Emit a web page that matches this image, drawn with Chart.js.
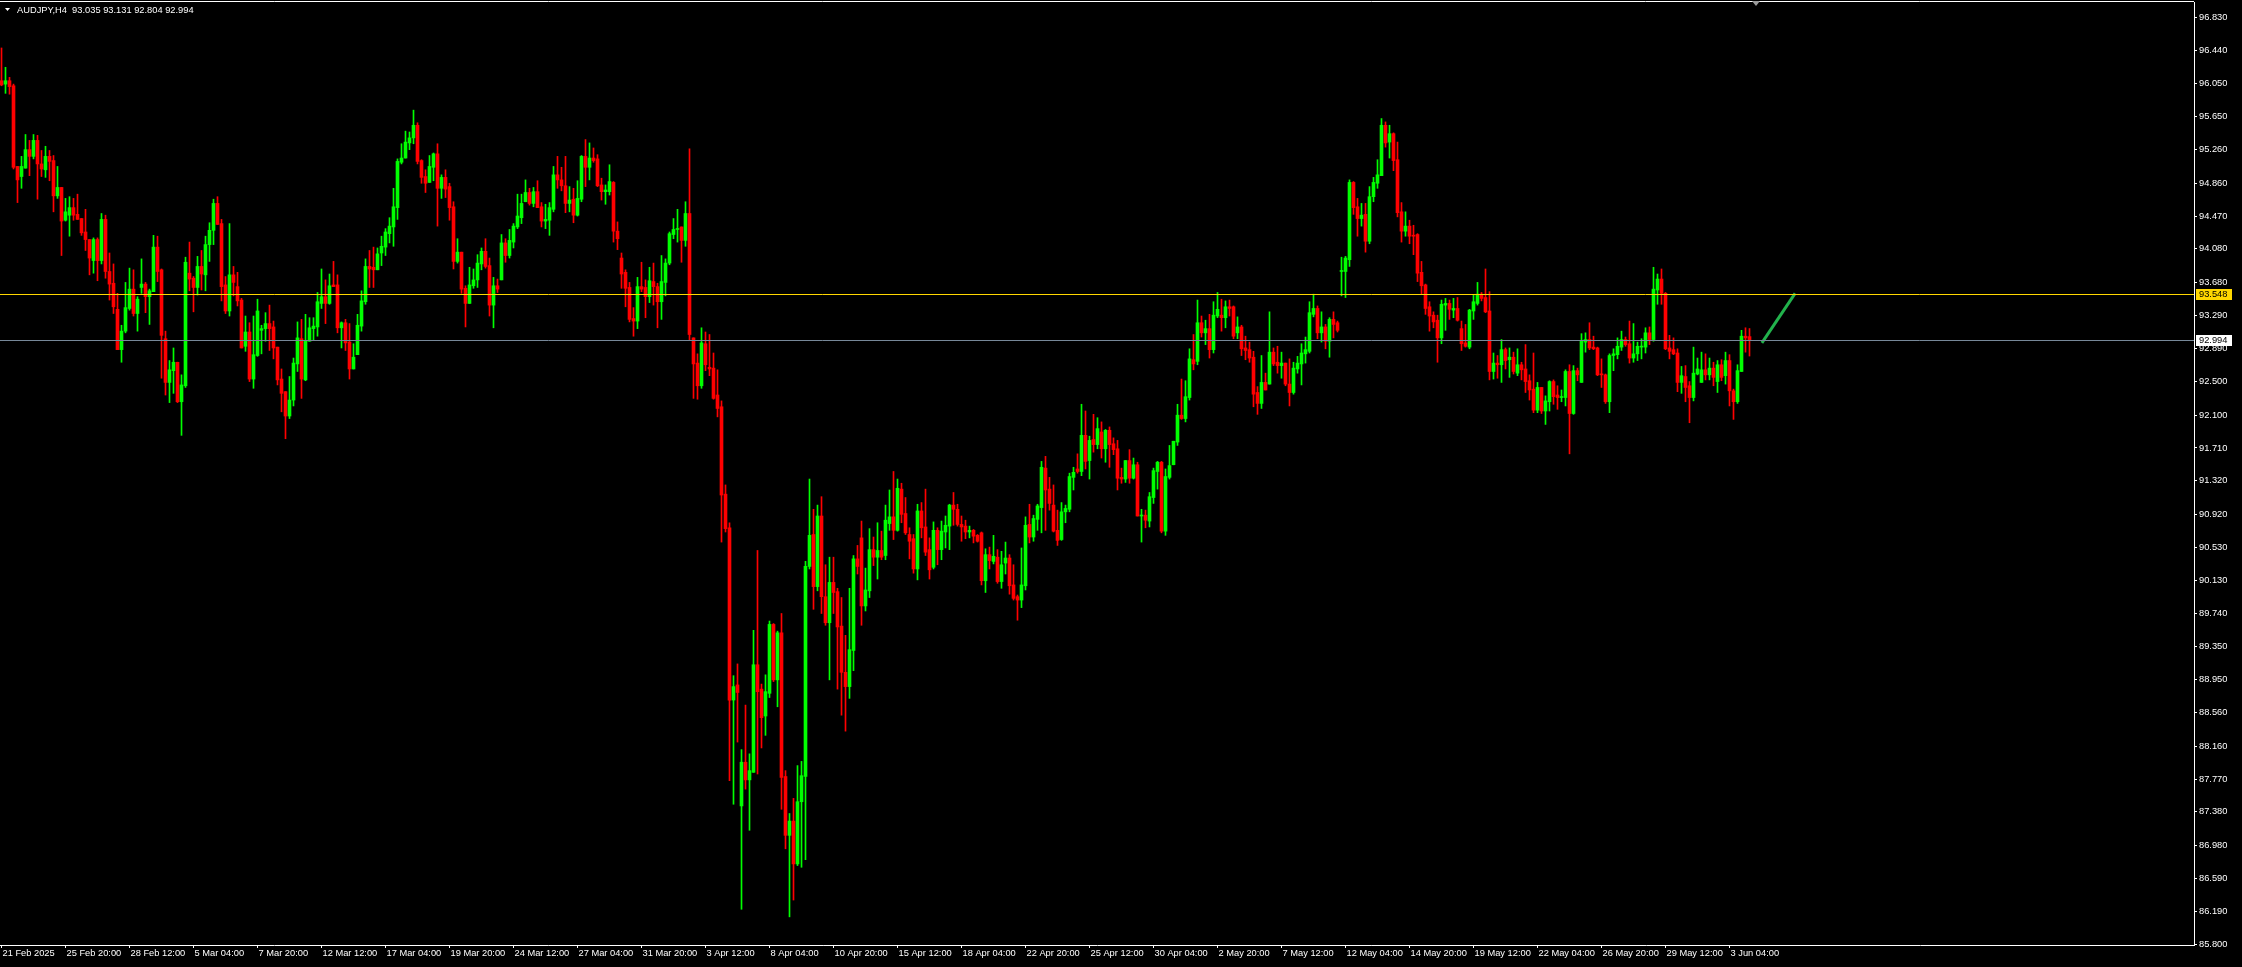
<!DOCTYPE html>
<html>
<head>
<meta charset="utf-8">
<title>AUDJPY,H4</title>
<script src="https://cdn.jsdelivr.net/npm/chart.js@4.4.1/dist/chart.umd.min.js"></script>
<style>
  html, body { margin: 0; padding: 0; background: #000; overflow: hidden; }
  #chart { display: block; }
</style>
</head>
<body>
<canvas id="chart" width="2242" height="967"></canvas>
<script>
'use strict';

// header
var symbolTitle = 'AUDJPY,H4';
var lastQuote = [93.035, 93.131, 92.804, 92.994];

// H4 candles, 21 Feb 2025 04:00 -> 4 Jun 2025 00:00
var opens = [
  96.08,96.04,96.08,96.02,95.06,94.94,95.04,95.26,95.18,95.37,
  95.09,95.02,95.18,95.13,94.71,94.81,94.42,94.48,94.57,94.49,
  94.44,94.28,94.19,93.94,94.19,93.94,94.43,93.81,93.67,93.36,
  92.88,93.10,93.37,93.60,93.31,93.62,93.66,93.51,93.57,94.10,
  93.83,93.01,92.49,92.63,92.73,92.26,92.45,93.79,93.73,93.62,
  93.87,93.77,94.13,94.30,94.62,94.38,93.65,93.34,93.77,93.63,
  93.47,92.92,93.09,92.53,92.81,93.11,93.13,93.19,93.15,92.91,
  92.53,92.38,92.09,92.28,92.71,
  93.01,92.52,92.98,93.13,93.15,93.43,93.51,93.43,93.65,93.65,
  93.14,93.20,92.97,92.65,92.82,93.16,93.45,93.87,93.86,93.83,
  94.03,94.10,94.26,94.34,94.57,95.11,95.16,95.34,95.40,95.55,
  95.13,94.94,94.87,95.05,95.21,94.80,94.93,94.82,94.58,93.93,
  94.04,93.61,93.43,93.64,93.71,93.90,94.05,93.88,93.41,93.64,
  93.71,94.15,94.00,94.16,94.34,94.45,94.64,94.75,94.62,94.76,
  94.58,94.41,94.42,94.55,94.96,94.90,94.83,94.62,94.67,94.48,
  94.67,95.18,95.05,95.16,95.15,
  94.84,94.76,94.76,94.87,94.29,93.97,93.80,93.62,93.25,93.22,
  93.63,93.62,93.51,93.69,93.63,93.45,93.68,93.91,94.25,94.31,
  94.34,94.18,94.50,93.02,92.72,92.45,92.95,92.67,92.66,92.34,
  92.20,91.16,90.76,88.71,88.89,87.45,87.97,87.76,87.85,89.13,
  88.84,88.52,88.79,89.61,88.95,89.51,87.80,87.10,87.27,86.76,
  87.50,87.80,90.30,90.68,90.06,90.90,89.94,89.63,90.11,90.00,
  89.59,89.04,88.87,89.30,90.39,90.64,89.83,90.01,90.50,90.41,
  90.49,90.43,90.81,90.89,90.73,
  91.22,90.93,90.68,90.63,90.27,90.96,90.77,90.50,90.29,90.73,
  90.50,90.71,90.78,91.03,90.98,90.80,90.78,90.71,90.73,90.67,
  90.70,90.13,90.44,90.36,90.41,90.12,90.34,90.40,90.08,89.94,
  89.90,90.07,90.80,90.65,90.86,91.00,91.47,91.22,91.03,90.73,
  90.62,90.95,90.98,91.36,91.46,91.43,91.86,91.56,91.81,91.75,
  91.90,91.70,91.92,91.76,91.70,91.36,91.34,91.56,91.35,91.51,
  90.90,90.91,90.84,91.12,91.43,91.54,90.72,91.36,91.51,91.78,
  92.10,92.06,92.31,92.76,92.74,
  93.20,93.08,93.13,92.88,93.28,93.29,93.26,93.39,93.39,93.08,
  93.15,92.90,92.88,92.79,92.37,92.24,92.49,92.47,92.85,92.73,
  92.69,92.72,92.47,92.37,92.65,92.71,92.83,92.86,93.30,93.37,
  93.08,93.15,92.98,93.24,93.20,93.81,93.81,93.95,94.87,94.58,
  94.44,94.49,94.17,94.70,94.86,94.95,95.55,95.35,95.45,95.14,
  94.52,94.29,94.35,94.24,94.25,93.80,93.65,93.39,93.29,93.23,
  93.02,93.41,93.43,93.35,93.37,93.13,92.96,92.91,93.34,93.43,
  93.54,93.50,93.34,92.62,92.72,
  92.70,92.88,92.76,92.79,92.60,92.70,92.65,92.51,92.41,92.16,
  92.43,92.15,92.26,92.50,92.34,92.31,92.31,92.62,92.12,92.63,
  92.49,92.97,93.00,92.91,92.90,92.59,92.58,92.26,92.81,92.82,
  92.91,93.00,92.95,92.78,92.83,92.91,92.91,93.08,93.00,93.59,
  93.72,93.55,92.90,92.88,92.84,92.49,92.56,92.45,92.31,92.59,
  92.49,92.64,92.58,92.66,92.50,92.70,92.57,92.75,92.39,92.26,
  92.62,93.04,93.035
];
var highs = [
  96.47,96.24,96.12,96.04,95.06,95.18,95.44,95.37,95.44,95.43,
  95.25,95.30,95.25,95.19,95.06,94.81,94.68,94.70,94.68,94.73,
  94.44,94.55,94.19,94.21,94.21,94.50,94.48,94.03,93.90,93.55,
  93.17,93.68,93.85,93.83,93.51,93.96,93.68,93.60,94.24,94.23,
  93.84,93.10,92.75,92.90,92.73,92.58,93.98,94.16,93.75,93.99,
  94.06,94.23,94.39,94.67,94.70,94.43,93.75,94.38,93.87,93.80,
  93.49,93.28,93.20,93.28,93.48,93.17,93.32,93.41,93.22,92.91,
  92.65,92.38,92.56,92.78,93.21,
  93.24,93.30,93.26,93.26,93.56,93.84,93.71,93.78,93.93,93.77,
  93.21,93.24,93.19,92.95,93.30,93.58,93.96,94.06,94.10,94.09,
  94.23,94.32,94.45,94.80,95.15,95.33,95.48,95.47,95.73,95.58,
  95.14,95.02,95.19,95.22,95.33,94.96,95.02,94.86,94.64,94.20,
  94.04,93.64,93.86,93.84,94.01,94.09,94.20,93.97,93.74,93.72,
  94.25,94.20,94.31,94.38,94.73,94.73,94.90,94.80,94.81,94.89,
  94.63,94.61,94.63,95.06,95.18,95.05,95.18,94.82,94.80,94.89,
  95.19,95.38,95.34,95.28,95.20,
  94.92,94.84,95.08,94.88,94.40,94.03,93.83,93.68,93.38,93.74,
  93.92,93.71,93.86,93.91,93.67,94.00,93.96,94.28,94.44,94.55,
  94.34,94.64,95.27,93.02,92.83,93.14,93.09,93.06,92.84,92.64,
  92.27,91.27,90.82,89.00,89.14,88.12,88.65,88.07,89.54,90.49,
  88.90,89.01,89.65,89.62,89.53,89.74,87.87,87.36,87.54,87.93,
  87.98,90.36,91.34,90.98,91.03,91.13,90.32,90.41,90.41,90.04,
  89.93,89.48,90.04,90.43,90.55,90.84,90.28,90.75,90.65,90.82,
  90.72,91.03,91.21,91.43,91.34,
  91.29,91.12,90.76,90.68,91.04,91.06,91.22,90.64,90.83,90.76,
  90.84,90.90,91.04,91.18,91.04,90.90,90.85,90.78,90.74,90.68,
  90.71,90.51,90.53,90.67,90.50,90.48,90.59,90.44,90.32,89.96,
  90.52,90.89,91.04,90.91,91.04,91.55,91.61,91.36,91.27,90.97,
  91.06,91.03,91.41,91.48,91.64,92.23,92.15,91.85,92.11,92.07,
  92.02,91.93,91.96,91.83,91.80,91.47,91.56,91.69,91.59,91.54,
  90.98,90.97,91.18,91.47,91.55,91.55,91.46,91.74,91.79,92.23,
  92.53,92.51,92.89,93.06,93.47,
  93.28,93.23,93.30,93.45,93.56,93.48,93.46,93.47,93.40,93.27,
  93.17,93.04,92.97,92.86,92.44,92.81,92.60,93.33,92.90,92.92,
  92.85,92.72,92.77,92.73,92.80,92.95,93.03,93.45,93.54,93.40,
  93.33,93.18,93.26,93.33,93.22,93.98,93.99,94.90,94.88,94.68,
  94.62,94.62,94.82,94.93,95.14,95.63,95.59,95.55,95.46,95.35,
  94.63,94.52,94.42,94.36,94.26,93.93,93.66,93.45,93.33,93.29,
  93.47,93.49,93.47,93.49,93.50,93.22,93.18,93.36,93.53,93.68,
  93.56,93.84,93.57,92.84,92.81,
  93.00,92.90,92.90,92.85,92.89,92.73,92.94,92.58,92.84,92.49,
  92.43,92.33,92.51,92.52,92.45,92.40,92.64,92.70,92.69,92.66,
  93.07,93.08,93.20,93.04,92.91,92.77,92.59,92.83,92.89,93.02,
  93.10,93.03,93.22,93.19,92.97,93.01,93.14,93.15,93.86,93.78,
  93.84,93.56,93.05,93.02,92.89,92.68,92.69,92.50,92.91,92.78,
  92.85,92.83,92.78,92.73,92.75,92.76,92.85,92.82,92.41,92.70,
  93.11,93.14,93.131
];
var lows = [
  96.02,95.93,95.92,95.03,94.63,94.80,95.04,94.95,95.15,94.67,
  94.94,94.93,94.89,94.52,94.68,94.00,94.41,94.23,94.42,94.43,
  94.24,94.06,93.77,93.79,93.70,93.90,93.73,93.47,93.31,92.88,
  92.73,93.08,93.35,93.28,93.10,93.55,93.32,93.18,93.57,93.69,
  92.54,92.34,92.25,92.36,92.25,91.86,92.43,93.58,93.33,93.53,
  93.59,93.58,93.93,94.13,94.37,93.46,93.31,93.28,93.52,93.40,
  92.90,92.86,92.50,92.42,92.80,92.83,92.98,92.87,92.77,92.46,
  92.14,91.82,92.06,92.21,92.62,
  92.30,92.51,92.98,92.99,93.04,93.37,93.19,93.42,93.63,93.08,
  92.90,92.87,92.53,92.65,92.82,93.10,93.42,93.62,93.62,93.83,
  93.88,94.00,94.15,94.11,94.43,95.09,95.16,95.26,95.33,95.09,
  94.86,94.75,94.87,94.89,94.35,94.68,94.69,94.42,93.84,93.91,
  93.55,93.15,93.43,93.61,93.62,93.83,93.85,93.28,93.14,93.56,
  93.71,93.92,93.97,94.09,94.32,94.38,94.64,94.60,94.58,94.57,
  94.34,94.32,94.24,94.52,94.80,94.77,94.51,94.52,94.39,94.47,
  94.64,94.82,94.90,95.11,94.82,
  94.66,94.61,94.72,94.16,94.07,93.61,93.39,93.21,93.04,93.13,
  93.57,93.26,93.44,93.41,93.14,93.24,93.52,93.89,94.20,94.16,
  93.92,94.11,92.99,92.30,92.29,92.42,92.63,92.57,92.29,92.08,
  90.59,90.71,87.75,87.47,88.21,86.22,87.65,87.16,87.85,87.83,
  88.14,88.29,88.74,88.93,88.63,87.41,86.94,86.13,86.33,86.74,
  86.72,86.81,90.27,89.79,90.01,89.74,89.60,88.95,89.74,88.84,
  88.53,88.34,88.73,89.06,90.21,89.60,89.77,89.93,90.31,90.15,
  90.38,90.38,90.73,90.62,90.72,
  90.82,90.68,90.39,90.22,90.14,90.64,90.43,90.15,90.27,90.32,
  90.38,90.52,90.50,90.79,90.78,90.60,90.63,90.64,90.58,90.59,
  90.08,89.99,90.27,90.33,90.10,90.04,90.21,89.97,89.90,89.66,
  89.81,90.02,90.58,90.60,90.73,90.70,90.73,90.97,90.71,90.55,
  90.61,90.82,90.95,91.21,91.41,91.38,91.46,91.34,91.66,91.70,
  91.59,91.54,91.48,91.63,91.21,91.29,91.30,91.29,91.34,90.90,
  90.59,90.76,90.77,91.05,91.22,90.70,90.67,91.34,91.51,91.74,
  92.05,92.02,92.28,92.64,92.70,
  93.03,92.94,92.78,92.84,93.26,93.10,93.14,93.28,93.01,93.01,
  92.81,92.76,92.73,92.20,92.11,92.18,92.40,92.47,92.69,92.60,
  92.54,92.45,92.21,92.35,92.60,92.46,92.72,92.84,93.27,93.01,
  92.97,92.89,92.79,93.02,93.09,93.52,93.50,93.87,94.49,94.23,
  94.35,94.04,94.14,94.64,94.80,94.95,95.29,95.16,95.01,94.46,
  94.16,94.23,94.14,94.01,93.69,93.54,93.30,93.10,93.14,92.73,
  92.95,93.11,93.24,93.26,93.22,92.87,92.91,92.89,93.24,93.41,
  93.46,93.32,92.52,92.53,92.54,
  92.49,92.65,92.55,92.59,92.57,92.52,92.37,92.28,92.13,92.13,
  92.12,91.99,92.15,92.23,92.17,92.26,92.21,91.64,92.11,92.51,
  92.49,92.85,92.88,92.88,92.57,92.43,92.24,92.13,92.63,92.77,
  92.87,92.92,92.72,92.73,92.75,92.77,92.84,92.94,92.98,93.42,
  93.42,92.88,92.77,92.82,92.38,92.36,92.26,92.01,92.27,92.58,
  92.49,92.52,92.52,92.45,92.37,92.51,92.47,92.21,92.05,92.24,
  92.62,92.85,92.804
];
var closes = [
  96.03,96.08,96.01,95.05,94.90,95.06,95.26,95.18,95.37,95.09,
  95.03,95.18,95.12,94.71,94.81,94.41,94.52,94.57,94.48,94.43,
  94.27,94.19,93.97,94.19,93.94,94.43,93.81,93.66,93.39,92.88,
  93.10,93.38,93.60,93.31,93.48,93.66,93.51,93.58,94.10,93.81,
  93.05,92.49,92.64,92.73,92.26,92.46,93.92,93.72,93.62,93.87,
  93.78,94.13,94.30,94.62,94.37,93.63,93.34,93.77,93.68,93.46,
  92.90,93.09,92.53,92.82,93.34,93.13,93.19,93.13,92.90,92.52,
  92.36,92.09,92.28,92.72,93.02,
  92.53,92.98,93.14,93.16,93.45,93.51,93.43,93.64,93.63,93.14,
  93.20,92.96,92.65,92.79,93.17,93.46,93.87,93.84,93.83,94.02,
  94.11,94.28,94.35,94.58,95.12,95.16,95.35,95.40,95.55,95.12,
  94.93,94.86,95.06,95.21,94.80,94.93,94.79,94.57,93.93,94.04,
  93.60,93.43,93.65,93.71,93.91,94.05,93.87,93.41,93.64,93.60,
  94.15,94.00,94.18,94.35,94.47,94.62,94.75,94.62,94.76,94.57,
  94.41,94.43,94.57,94.96,94.90,94.83,94.62,94.66,94.48,94.68,
  95.18,95.05,95.16,95.13,94.83,
  94.76,94.78,94.88,94.29,94.20,93.78,93.61,93.24,93.22,93.63,
  93.60,93.51,93.70,93.63,93.45,93.69,93.91,94.26,94.31,94.32,
  94.18,94.50,93.06,92.71,92.45,92.96,92.70,92.65,92.30,92.18,
  91.15,90.75,88.71,88.87,88.80,87.97,87.76,87.87,89.13,88.81,
  88.50,88.81,89.61,88.95,89.51,87.79,87.10,87.27,86.76,87.50,
  87.81,90.30,90.67,90.06,90.90,89.94,89.63,90.11,89.99,89.58,
  89.04,88.87,89.31,90.39,90.30,89.83,90.02,90.50,90.41,90.49,
  90.41,90.85,90.89,90.73,91.23,
  90.92,90.70,90.60,90.27,90.96,90.76,90.47,90.26,90.73,90.50,
  90.72,90.79,91.03,90.98,90.80,90.77,90.71,90.73,90.66,90.60,
  90.13,90.44,90.37,90.42,90.12,90.32,90.40,90.07,89.92,89.90,
  90.08,90.79,90.65,90.87,91.02,91.48,91.21,91.05,90.72,90.61,
  90.95,90.99,91.37,91.42,91.43,91.86,91.55,91.80,91.75,91.94,
  91.70,91.92,91.75,91.69,91.35,91.34,91.56,91.35,91.51,90.90,
  90.91,90.85,91.13,91.44,91.54,90.72,91.37,91.50,91.79,92.10,
  92.06,92.32,92.77,92.71,93.20,
  93.08,93.13,92.88,93.29,93.36,93.26,93.39,93.37,93.04,93.15,
  92.89,92.87,92.78,92.35,92.24,92.49,92.40,92.85,92.71,92.69,
  92.72,92.47,92.37,92.66,92.72,92.84,92.88,93.32,93.37,93.08,
  93.15,92.98,93.24,93.18,93.11,93.82,93.97,94.87,94.57,94.44,
  94.48,94.17,94.70,94.87,94.96,95.55,95.34,95.45,95.13,94.51,
  94.29,94.35,94.23,94.23,93.79,93.64,93.37,93.28,93.21,93.02,
  93.42,93.43,93.36,93.37,93.23,92.95,92.92,93.35,93.45,93.54,
  93.49,93.33,92.62,92.72,92.70,
  92.88,92.75,92.79,92.62,92.70,92.64,92.50,92.40,92.16,92.43,
  92.15,92.27,92.50,92.32,92.31,92.32,92.62,92.12,92.63,92.58,
  92.98,93.00,92.90,92.89,92.58,92.58,92.26,92.81,92.83,92.92,
  93.00,92.94,92.78,92.83,92.92,92.92,93.08,93.00,93.60,93.72,
  93.55,92.89,92.86,92.83,92.49,92.57,92.43,92.31,92.60,92.65,
  92.64,92.58,92.66,92.55,92.70,92.55,92.75,92.39,92.26,92.63,
  93.04,93.02,92.994
];

// one time label every 16 bars
var timeLabels = [
  '21 Feb 2025', '25 Feb 20:00', '28 Feb 12:00', '5 Mar 04:00', '7 Mar 20:00',
  '12 Mar 12:00', '17 Mar 04:00', '19 Mar 20:00', '24 Mar 12:00', '27 Mar 04:00',
  '31 Mar 20:00', '3 Apr 12:00', '8 Apr 04:00', '10 Apr 20:00', '15 Apr 12:00',
  '18 Apr 04:00', '22 Apr 20:00', '25 Apr 12:00', '30 Apr 04:00', '2 May 20:00',
  '7 May 12:00', '12 May 04:00', '14 May 20:00', '19 May 12:00', '22 May 04:00',
  '26 May 20:00', '29 May 12:00', '3 Jun 04:00'
];
var labelStep = 16;

var priceTicks = [
  96.830, 96.440, 96.050, 95.650, 95.260, 94.860, 94.470, 94.080, 93.680, 93.290,
  92.890, 92.500, 92.100, 91.710, 91.320, 90.920, 90.530, 90.130, 89.740, 89.350,
  88.950, 88.560, 88.160, 87.770, 87.380, 86.980, 86.590, 86.190, 85.800
];

var levelLine = 93.548;   // horizontal line object
var bidLine = 92.994;     // bid line
var trendX = [440.1, 448.4];
var trendY = [92.96, 93.55];
var shiftMarkBar = 438.6;

var FONT = '"Liberation Sans", Arial, sans-serif';
var FONT_SIZE = 9.3;
var UP = '#00ff00';
var DOWN = '#ff0000';

Chart.defaults.font.family = FONT;
Chart.defaults.font.size = FONT_SIZE;
Chart.defaults.color = '#ffffff';

var candleColors = opens.map(function (o, i) { return closes[i] >= o ? UP : DOWN; });
var wickData = opens.map(function (o, i) { return { x: i, y: [lows[i], highs[i]] }; });
var bodyData = opens.map(function (o, i) { return { x: i, y: [o, closes[i]] }; });

/** MT4 style overlays: level lines, price boxes, header */
var overlayPlugin = {
  id: 'mt4Overlay',
  afterDatasetsDraw: function (chart) {
    var ctx = chart.ctx;
    var area = chart.chartArea;
    var y = chart.scales.y;
    ctx.save();
    ctx.beginPath();
    ctx.rect(area.left, area.top, area.right - area.left, area.bottom - area.top);
    ctx.clip();
    ctx.lineWidth = 1;
    [[bidLine, '#778899'], [levelLine, '#ffd700']].forEach(function (l) {
      var py = Math.round(y.getPixelForValue(l[0])) + 0.5;
      ctx.strokeStyle = l[1];
      ctx.beginPath();
      ctx.moveTo(area.left, py);
      ctx.lineTo(area.right, py);
      ctx.stroke();
    });
    ctx.restore();
  },
  afterDraw: function (chart) {
    var ctx = chart.ctx;
    var area = chart.chartArea;
    var y = chart.scales.y;
    var x = chart.scales.x;
    ctx.save();

    // top frame line
    ctx.strokeStyle = '#ffffff';
    ctx.lineWidth = 1;
    ctx.beginPath();
    ctx.moveTo(0, 1.5);
    ctx.lineTo(area.right, 1.5);
    ctx.stroke();

    // chart shift marker
    var sx = Math.round(x.getPixelForValue(shiftMarkBar));
    ctx.fillStyle = '#9a9a9a';
    ctx.beginPath();
    ctx.moveTo(sx - 4, 1);
    ctx.lineTo(sx + 4, 1);
    ctx.lineTo(sx, 6);
    ctx.closePath();
    ctx.fill();

    // price boxes on the right scale
    ctx.font = FONT_SIZE + 'px ' + FONT;
    ctx.textBaseline = 'middle';
    ctx.textAlign = 'left';
    [[levelLine, '#ffd700'], [bidLine, '#ffffff']].forEach(function (b) {
      var py = Math.round(y.getPixelForValue(b[0]));
      ctx.fillStyle = b[1];
      ctx.fillRect(area.right + 2, py - 5, 36, 11);
      ctx.fillStyle = '#000000';
      ctx.fillText(b[0].toFixed(3), area.right + 5, py + 0.5);
    });

    // header
    ctx.fillStyle = '#ffffff';
    ctx.beginPath();
    ctx.moveTo(5, 8);
    ctx.lineTo(10, 8);
    ctx.lineTo(7.5, 11);
    ctx.closePath();
    ctx.fill();
    var head = symbolTitle + '  ' + lastQuote.map(function (v) { return v.toFixed(3); }).join(' ');
    ctx.fillText(head, 17, 10);
    ctx.restore();
  }
};

new Chart(document.getElementById('chart'), {
  type: 'bar',
  data: {
    datasets: [
      {
        label: 'wick',
        data: wickData,
        backgroundColor: candleColors,
        barThickness: 1,
        grouped: false,
        order: 2
      },
      {
        label: 'body',
        data: bodyData,
        backgroundColor: candleColors,
        barThickness: 3,
        minBarLength: 1,
        grouped: false,
        order: 1
      },
      {
        type: 'line',
        label: 'trend',
        data: trendX.map(function (v, i) { return { x: v, y: trendY[i] }; }),
        borderColor: '#22b24c',
        borderWidth: 3,
        pointRadius: 0,
        order: 0
      }
    ]
  },
  options: {
    responsive: false,
    animation: false,
    devicePixelRatio: 1,
    events: [],
    layout: { padding: { top: 2, left: 0, right: 0, bottom: 0 } },
    plugins: { legend: { display: false }, tooltip: { enabled: false } },
    scales: {
      x: {
        type: 'linear',
        min: -0.375,
        max: 548.125,
        offset: false,
        afterBuildTicks: function (scale) {
          scale.ticks = timeLabels.map(function (t, k) { return { value: k * labelStep }; });
        },
        afterFit: function (scale) {
          scale.height = 22;
          scale.paddingLeft = 0;
          scale.paddingRight = 0;
        },
        ticks: {
          autoSkip: false,
          maxRotation: 0,
          minRotation: 0,
          align: 'start',
          labelOffset: 1,
          padding: 0,
          color: '#ffffff',
          callback: function (v) { return timeLabels[Math.round(v / labelStep)]; }
        },
        grid: { display: true, drawOnChartArea: false, drawTicks: true, tickLength: 3, color: '#ffffff', offset: false },
        border: { display: true, color: '#ffffff', width: 1 }
      },
      y: {
        position: 'right',
        min: 85.795,
        max: 97.017,
        afterBuildTicks: function (scale) {
          scale.ticks = priceTicks.map(function (v) { return { value: v }; });
        },
        afterFit: function (scale) {
          scale.width = 48;
          scale.paddingTop = 0;
          scale.paddingBottom = 0;
        },
        ticks: {
          autoSkip: false,
          padding: 2,
          color: '#ffffff',
          callback: function (v) { return Number(v).toFixed(3); }
        },
        grid: { display: true, drawOnChartArea: false, drawTicks: true, tickLength: 3, color: '#ffffff' },
        border: { display: true, color: '#ffffff', width: 1 }
      }
    }
  },
  plugins: [overlayPlugin]
});
</script>
</body>
</html>
